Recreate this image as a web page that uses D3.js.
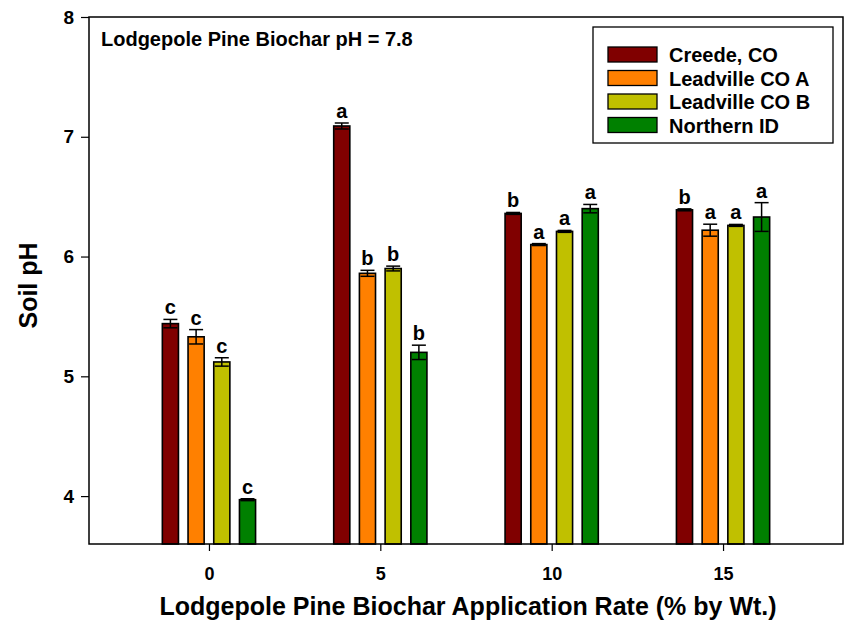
<!DOCTYPE html>
<html>
<head>
<meta charset="utf-8">
<script src="https://cdn.jsdelivr.net/npm/d3@7"></script>
<style>
  body { margin: 0; background: #fff; }
  text { font-family: "Liberation Sans", Arial, Helvetica, sans-serif; font-weight: bold; fill: #000; }
</style>
</head>
<body>
<svg id="chart" width="845" height="624"></svg>
<script>
// data
var rates = [0, 5, 10, 15];
var sites = ["Creede, CO", "Leadville CO A", "Leadville CO B", "Northern ID"];
var siteColors = ["#800000", "#ff8000", "#c0c000", "#008000"];

var creedePH = [5.44, 7.09, 6.36, 6.39];
var leadvilleAPH = [5.33, 5.86, 6.10, 6.22];
var leadvilleBPH = [5.12, 5.90, 6.21, 6.26];
var northernPH = [3.97, 5.20, 6.40, 6.33];

var creedeErr = [0.035, 0.025, 0.008, 0.008];
var leadvilleAErr = [0.06, 0.025, 0.008, 0.05];
var leadvilleBErr = [0.035, 0.02, 0.008, 0.008];
var northernErr = [0.008, 0.06, 0.035, 0.12];

var creedeLet = ["c", "a", "b", "b"];
var leadvilleALet = ["c", "b", "a", "a"];
var leadvilleBLet = ["c", "b", "a", "a"];
var northernLet = ["c", "b", "a", "a"];

var yTicks = [4, 5, 6, 7, 8];

var series = [
    {name: sites[0], color: siteColors[0], vals: creedePH, err: creedeErr, let: creedeLet},
    {name: sites[1], color: siteColors[1], vals: leadvilleAPH, err: leadvilleAErr, let: leadvilleALet},
    {name: sites[2], color: siteColors[2], vals: leadvilleBPH, err: leadvilleBErr, let: leadvilleBLet},
    {name: sites[3], color: siteColors[3], vals: northernPH, err: northernErr, let: northernLet}
];

// plot frame (window.top is read-only, so no plain "top" here)
var pL = 89, pR = 843, pT = 17, pB = 544;

var x = d3.scaleLinear().domain([-3.5, 18.5]).range([pL, pR]);
var y = d3.scaleLinear().domain([3.6, 8]).range([pB, pT]);

var barStep = 0.75;   // in % units
var barW = x(0.47) - x(0);
var capW = 14;

var svg = d3.select("#chart");

// one record per bar
var bars = [];
series.forEach(function(s, i) {
    rates.forEach(function(r, j) {
        bars.push({
            cx: x(r + (i - 1.5) * barStep),
            v: s.vals[j], e: s.err[j], l: s.let[j], color: s.color
        });
    });
});

var g = svg.append("g");

g.selectAll(".bar")
    .data(bars)
    .enter()
    .append("rect")
    .attr("class", "bar")
    .attr("x", function(d) { return d.cx - barW / 2; })
    .attr("y", function(d) { return y(d.v); })
    .attr("width", barW)
    .attr("height", function(d) { return pB - y(d.v); })
    .attr("fill", function(d) { return d.color; })
    .attr("stroke", "#000")
    .attr("stroke-width", 1.6);

// error bars
var eb = g.selectAll(".err")
    .data(bars)
    .enter()
    .append("g")
    .attr("class", "err")
    .attr("stroke", "#000")
    .attr("stroke-width", 1.5);
eb.append("line")
    .attr("x1", function(d) { return d.cx; })
    .attr("x2", function(d) { return d.cx; })
    .attr("y1", function(d) { return y(d.v - d.e); })
    .attr("y2", function(d) { return y(d.v + d.e); });
eb.append("line")
    .attr("x1", function(d) { return d.cx - capW / 2; })
    .attr("x2", function(d) { return d.cx + capW / 2; })
    .attr("y1", function(d) { return y(d.v + d.e); })
    .attr("y2", function(d) { return y(d.v + d.e); });
eb.append("line")
    .attr("x1", function(d) { return d.cx - capW / 2; })
    .attr("x2", function(d) { return d.cx + capW / 2; })
    .attr("y1", function(d) { return y(d.v - d.e); })
    .attr("y2", function(d) { return y(d.v - d.e); });

// significance letters
g.selectAll(".sig")
    .data(bars)
    .enter()
    .append("text")
    .attr("class", "sig")
    .attr("x", function(d) { return d.cx; })
    .attr("y", function(d) { return y(d.v + d.e) - 5; })
    .attr("text-anchor", "middle")
    .style("font-size", "20px")
    .text(function(d) { return d.l; });

// frame
svg.append("rect")
    .attr("x", pL).attr("y", pT)
    .attr("width", pR - pL).attr("height", pB - pT)
    .attr("fill", "none").attr("stroke", "#000").attr("stroke-width", 1.5);

// axes
var yAxis = svg.append("g")
    .attr("transform", "translate(" + pL + ",0)")
    .call(d3.axisLeft(y).tickValues(yTicks).tickFormat(d3.format("d"))
        .tickSize(8).tickSizeOuter(0).tickPadding(7));
yAxis.select(".domain").remove();
yAxis.selectAll("line").attr("stroke-width", 1.2);
yAxis.selectAll("text").style("font-size", "19px").style("font-family", "Liberation Sans, Arial, sans-serif");

var xAxis = svg.append("g")
    .attr("transform", "translate(0," + pB + ")")
    .call(d3.axisBottom(x).tickValues(rates).tickFormat(d3.format("d"))
        .tickSize(7).tickSizeOuter(0).tickPadding(16));
xAxis.select(".domain").remove();
xAxis.selectAll("line").attr("stroke-width", 1.2);
xAxis.selectAll("text").style("font-size", "18px").style("font-family", "Liberation Sans, Arial, sans-serif");

// axis titles
svg.append("text")
    .attr("x", (pL + pR) / 2 + 2)
    .attr("y", 615)
    .attr("text-anchor", "middle")
    .style("font-size", "25px")
    .text("Lodgepole Pine Biochar Application Rate (% by Wt.)");

svg.append("text")
    .attr("transform", "translate(37," + ((pT + pB) / 2 + 5) + ") rotate(-90)")
    .attr("text-anchor", "middle")
    .style("font-size", "25px")
    .text("Soil pH");

// annotation
svg.append("text")
    .attr("x", 101)
    .attr("y", 46)
    .style("font-size", "20px")
    .text("Lodgepole Pine Biochar pH = 7.8");

// legend
var lg = svg.append("g");
lg.append("rect")
    .attr("x", 593).attr("y", 27).attr("width", 240).attr("height", 116)
    .attr("fill", "#fff").attr("stroke", "#000").attr("stroke-width", 1.3);
var items = lg.selectAll(".item")
    .data(series)
    .enter()
    .append("g")
    .attr("class", "item")
    .attr("transform", function(d, i) { return "translate(608," + (47 + i * 23.5) + ")"; });
items.append("rect")
    .attr("width", 49).attr("height", 15)
    .attr("fill", function(d) { return d.color; })
    .attr("stroke", "#000").attr("stroke-width", 1.3);
items.append("text")
    .attr("x", 61).attr("y", 15)
    .style("font-size", "20px")
    .text(function(d) { return d.name; });
</script>
</body>
</html>
